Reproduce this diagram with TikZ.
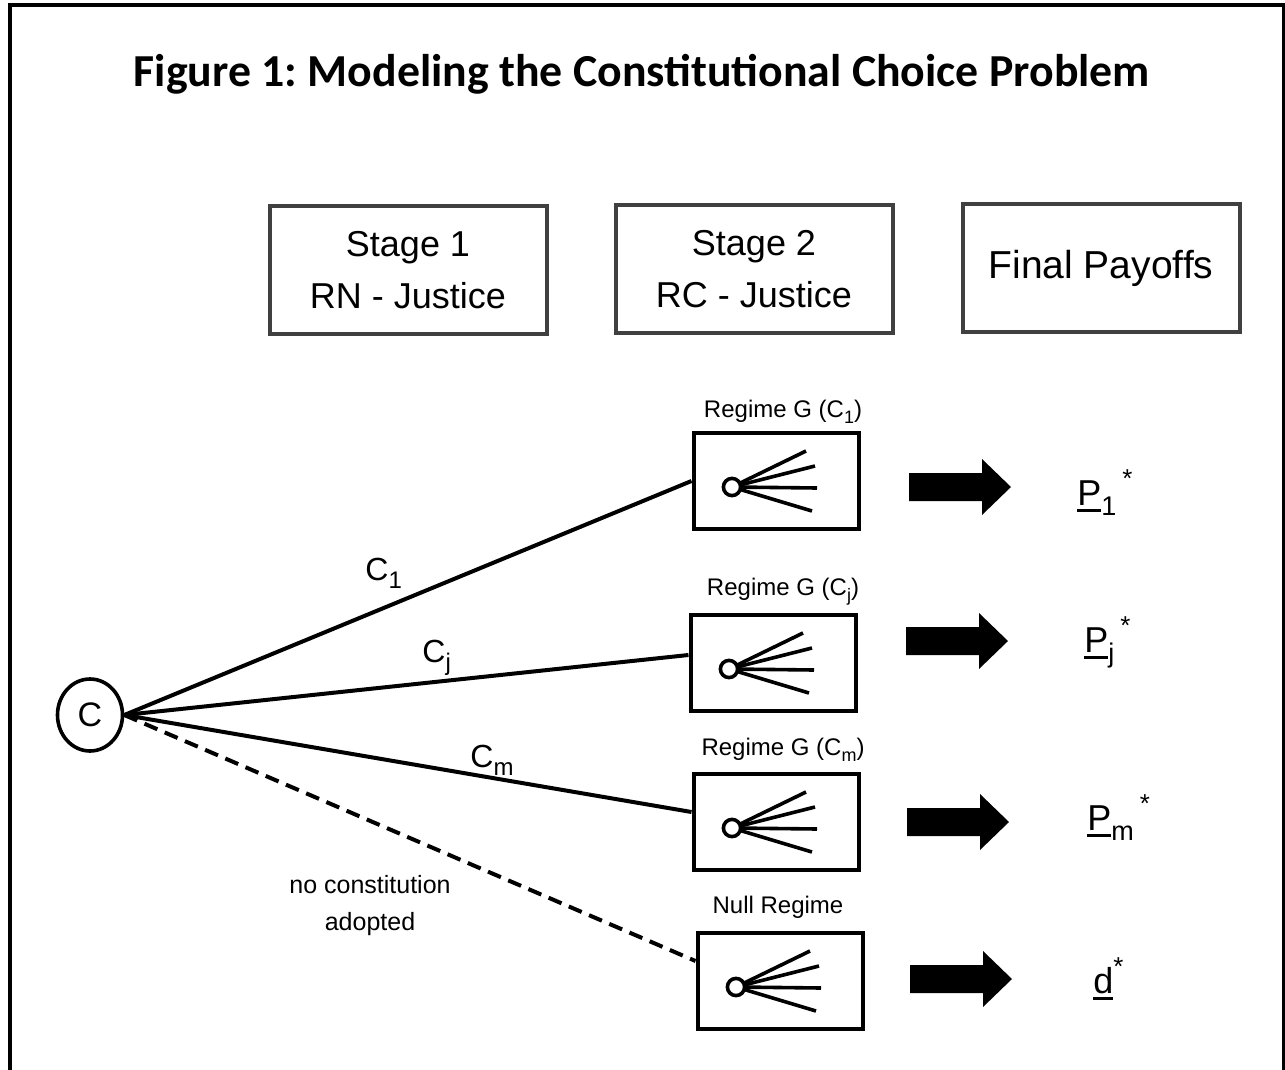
\documentclass[tikz,border=0pt]{standalone}
\usepackage{fontspec}
\setmainfont{Liberation Sans}
\newfontfamily\titlefont{Carlito}
\usetikzlibrary{shapes.geometric}
\definecolor{stagegray}{HTML}{404040}
\frenchspacing
\newcommand\payul[1]{{\setbox0\hbox{#1}\rlap{\rule[-3.5pt]{\wd0}{1.5pt}}\box0}}
\newcommand\lo[1]{\raisebox{-0.28em}{\scalebox{0.75}{#1}}}
\newcommand\hi[1]{\raisebox{0.5em}{\scalebox{0.72}{#1}}}

\tikzset{
  stagebox/.style={draw=stagegray, line width=2pt, minimum width=138.5pt, minimum height=64pt, align=center, font=\fontsize{18}{26}\selectfont},
  regime/.style={draw, line width=2pt, minimum width=82.5pt, minimum height=48pt},
  reglabel/.style={font=\fontsize{12}{14}\selectfont, anchor=base, inner sep=0pt},
  branch/.style={line width=2pt},
  fan/.style={line width=1.8pt},
  choice/.style={font=\fontsize{16}{19}\selectfont, anchor=base west, inner sep=0pt},
  payoff/.style={font=\fontsize{18}{21}\selectfont, anchor=base west, inner sep=0pt}
}

\begin{document}
\begin{tikzpicture}[x=0.5pt,y=-0.5pt]
\useasboundingbox (0,0) rectangle (1285,1070);
% frame
\draw[line width=2pt] (10,1070) -- (10,5.5) -- (1283.5,5.5) -- (1283.5,1070);
% title
\node[font=\titlefont\bfseries\fontsize{22.9}{27}\selectfont, anchor=base] (title) at (642,87) {Figure 1: Modeling the Constitutional Choice Problem};
% stages
\node[stagebox] (s1) at (408,270) {Stage 1\\RN - Justice};
\node[stagebox] (s2) at (754,269) {Stage 2\\RC - Justice};
\node[stagebox, font=\fontsize{19.5}{26}\selectfont] (pay) at (1101,268) {Final Payoffs};
% root node
\node[ellipse, draw, line width=1.8pt, minimum width=32.5pt, minimum height=36pt, inner sep=0pt, font=\fontsize{17}{19}\selectfont] (c) at (90,715) {C};
% regimes with their sub-games
\foreach \n/\x/\y in {r1/776/481, rj/773/663, rm/776/822, rn/780/981}{
  \node[regime] (\n) at (\x,\y) {};
  \foreach \dx/\dy in {74/-36,83/-21,85/1,80/24}
    \draw[fan] (\x-44,\y+6) -- ++(\dx,\dy);
  \draw[fan,fill=white] (\x-44,\y+6) circle (4.3pt);
}
\node[reglabel] (l1) at (783,417) {Regime G (C\lo{1})};
\node[reglabel] (lj) at (783,595) {Regime G (C\lo{j})};
\node[reglabel] (lm) at (783,755) {Regime G (C\lo{m})};
\node[reglabel] (ln) at (778,913) {Null Regime};
% branches
\draw[branch] (c.east) -- (r1.west);
\draw[branch] (c.east) -- ([yshift=4pt]rj.west);
\draw[branch] (c.east) -- ([yshift=5pt]rm.west);
\draw[branch, dash pattern=on 7pt off 4pt] (c.east) -- ([yshift=10pt]rn.west);
\node[choice] (k1) at (365,580) {C\lo{1}};
\node[choice] (kj) at (422,662) {C\lo{j}};
\node[choice] (km) at (470,767) {C\lo{m}};
\node[font=\fontsize{12.5}{18.5}\selectfont, align=center] (none) at (370,906) {no constitution\\adopted};
% arrows to payoffs
\foreach \x/\y in {909/487, 906/641, 907/822, 910/979}
  \fill (\x,\y-14) -- ++(73,0) -- ++(0,-14) -- ++(29,28) -- ++(-29,28) -- ++(0,-14) -- ++(-73,0) -- cycle;
\node[payoff] (p1) at (1077,505) {\payul{P}\lo{1}\,\hi{*}};
\node[payoff] (pj) at (1084,652) {\payul{P}\lo{j}\,\hi{*}};
\node[payoff] (pm) at (1087,830) {\payul{P}\lo{m}\,\hi{*}};
\node[payoff] (pd) at (1093,993) {\payul{d}\hi{*}};
\end{tikzpicture}
\end{document}
